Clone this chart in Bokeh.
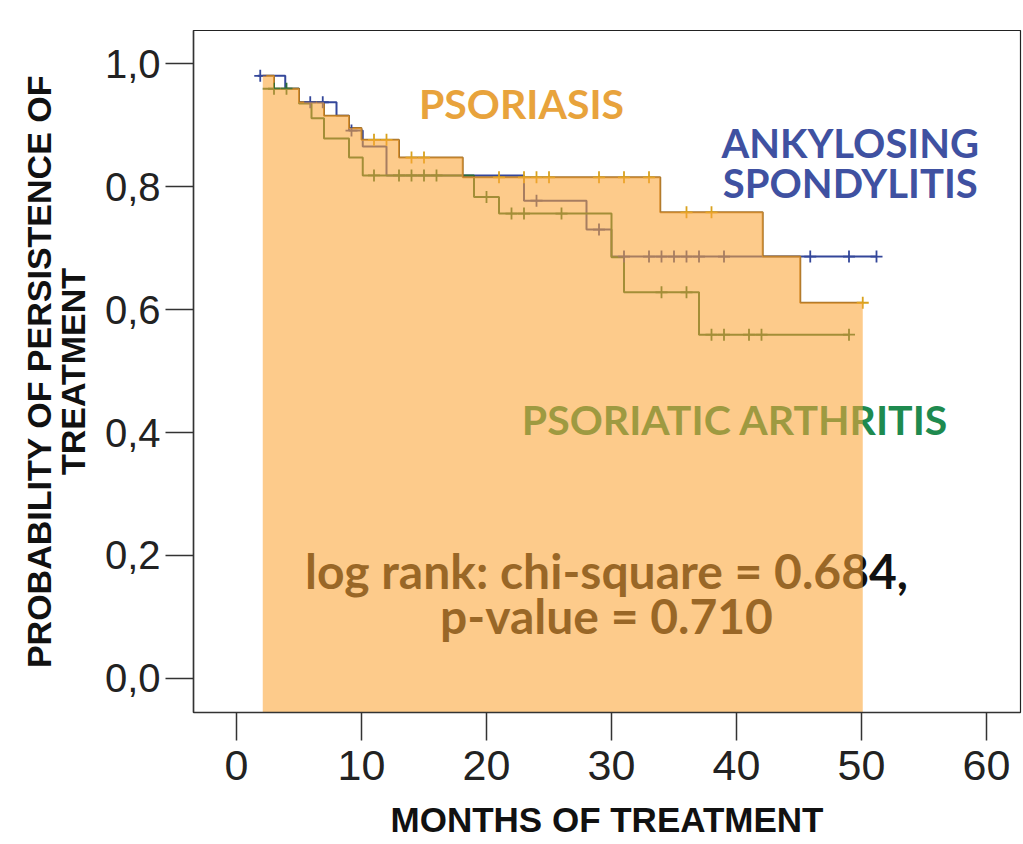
import numpy as np
from bokeh.plotting import figure
from bokeh.models import Range1d, FixedTicker
from bokeh.core.properties import value
from bokeh.embed import file_html
from bokeh.resources import INLINE

# ---------------- data ----------------
# Psoriasis Kaplan-Meier step curve (time in months, survival)
ps_t = [2.1, 3.0, 5.0, 7.0, 9.0, 10.0, 13.0, 18.1, 33.9, 42.1, 45.1, 50.1]
ps_s = [0.980, 0.959, 0.937, 0.915, 0.895, 0.876, 0.847, 0.815, 0.758, 0.686, 0.611, 0.611]
ps_cens = [11, 12, 14, 15, 21, 23, 24, 25, 29, 31, 33, 36, 38, 50.1]

# Ankylosing spondylitis
as_t = [1.7, 3.9, 5.0, 8.0, 9.0, 10.1, 12.0, 23.0, 28.0, 30.0, 51.2]
as_s = [0.980, 0.959, 0.937, 0.915, 0.891, 0.865, 0.818, 0.777, 0.730, 0.686, 0.686]
as_cens = [1.9, 5.9, 6.9, 9.2, 24, 29, 31, 33, 34, 35, 36, 37, 39, 45.9, 49, 51.2]

# Psoriatic arthritis
psa_t = [2.1, 5.0, 6.0, 7.0, 9.0, 10.1, 19.0, 21.0, 30.0, 31.0, 37.0, 49.0]
psa_s = [0.959, 0.935, 0.911, 0.878, 0.847, 0.818, 0.783, 0.756, 0.685, 0.628, 0.559, 0.559]
psa_cens = [3.0, 4.0, 11, 13, 14, 15, 16, 20, 22, 23, 26, 34, 36, 38, 39, 41, 42, 49]

x_ticks = [0, 10, 20, 30, 40, 50, 60]
y_ticks = [0.0, 0.2, 0.4, 0.6, 0.8, 1.0]
y_tick_labels = ["0,0", "0,2", "0,4", "0,6", "0,8", "1,0"]

C_PS_TEXT = "#E8A33C"
C_PS_LINE = "#A8742A"
C_AS = "#34479A"
C_PSA_TEXT = "#1E8A4F"
C_PSA_LINE = "#2A6E38"
C_FILL = "#FCA537"


def step_at(ts, ss, x):
    i = np.searchsorted(np.asarray(ts), x, side="right") - 1
    i = np.clip(i, 0, len(ss) - 1)
    return np.asarray(ss)[i]


X0, X1 = -3.44, 62.72
Y0, Y1 = -0.0553, 1.0537

p = figure(width=1023, height=844, output_backend="svg", toolbar_location=None,
           x_range=Range1d(X0, X1), y_range=Range1d(Y0, Y1),
           min_border_left=193, min_border_right=3, min_border_top=30, min_border_bottom=132)
p.background_fill_color = "white"
p.border_fill_color = "white"
p.outline_line_color = "#222222"
p.outline_line_width = 1.2
p.xgrid.visible = False
p.ygrid.visible = False

# axes
p.xaxis.ticker = FixedTicker(ticks=x_ticks)
p.yaxis.ticker = FixedTicker(ticks=y_ticks)
p.yaxis.major_label_overrides = {t: l for t, l in zip(y_ticks, y_tick_labels)}
for ax in (p.xaxis[0], p.yaxis[0]):
    ax.axis_line_color = "#333333"
    ax.axis_line_width = 1.5
    ax.major_tick_line_color = "#333333"
    ax.major_tick_line_width = 1.5
    ax.major_tick_in = 0
    ax.major_tick_out = 28
    ax.minor_tick_line_color = None
    ax.major_label_text_color = "#222222"
    ax.axis_label_text_color = "#111111"
    ax.axis_label_text_font_style = "bold"
    ax.axis_label_text_font = "Liberation Sans"

p.xaxis.major_label_text_font = "Liberation Sans"
p.xaxis.major_label_text_font_size = "43px"
p.xaxis.major_label_standoff = 10
p.xaxis.axis_label = "MONTHS OF TREATMENT"
p.xaxis.axis_label_text_font_size = "35px"
p.xaxis.axis_label_standoff = 17

p.yaxis.major_label_text_font = "Liberation Sans"
p.yaxis.major_label_text_font_size = "40px"
p.yaxis.major_label_standoff = 5
p.yaxis.axis_label = "PROBABILITY OF PERSISTENCE OF\nTREATMENT"
p.yaxis.axis_label_text_font_size = "34px"
p.yaxis.axis_label_text_line_height = 0.88
p.yaxis.axis_label_standoff = 10

# curves (drawn under the translucent fill)
p.step(as_t, as_s, mode="after", line_color=C_AS, line_width=2)
p.step(psa_t, psa_s, mode="after", line_color=C_PSA_LINE, line_width=2)
p.step(ps_t, ps_s, mode="after", line_color=C_PS_LINE, line_width=2)

p.scatter(as_cens, step_at(as_t, as_s, as_cens), marker="cross", size=12,
          line_color=C_AS, line_width=1.8)
p.scatter(psa_cens, step_at(psa_t, psa_s, psa_cens), marker="cross", size=12,
          line_color=C_PSA_LINE, line_width=1.8)
p.scatter(ps_cens, step_at(ps_t, ps_s, ps_cens), marker="cross", size=12,
          line_color="#D9A21E", line_width=1.8)

# texts
lato = value("Lato")
p.text(x=[22.8], y=[0.935], text=["PSORIASIS"], text_font=lato, text_font_style="bold",
       text_font_size="41px", text_color=C_PS_TEXT, text_align="center", text_baseline="middle")
p.text(x=[49.1, 49.1], y=[0.871, 0.806], text=["ANKYLOSING", "SPONDYLITIS"], text_font=lato,
       text_font_style="bold", text_font_size="40px", text_color="#3F51A1",
       text_align="center", text_baseline="middle")
p.text(x=[39.9], y=[0.421], text=["PSORIATIC ARTHRITIS"], text_font=lato, text_font_style="bold",
       text_font_size="41px", text_color=C_PSA_TEXT, text_align="center", text_baseline="middle")
p.text(x=[29.6, 29.6], y=[0.176, 0.102],
       text=["log rank: chi-square = 0.684,", "p-value = 0.710"], text_font=lato,
       text_font_style="bold", text_font_size="48px", text_color="#111111",
       text_align="center", text_baseline="middle")

# translucent area under the psoriasis curve, drawn on top
fx = np.repeat(np.asarray(ps_t, dtype=float), 2)[1:]
fy = np.repeat(np.asarray(ps_s, dtype=float), 2)[:-1]
p.varea(x=fx, y1=np.full(len(fx), Y0), y2=fy, fill_color=C_FILL, fill_alpha=0.58)

open("out.html", "w").write(file_html(p, INLINE))
